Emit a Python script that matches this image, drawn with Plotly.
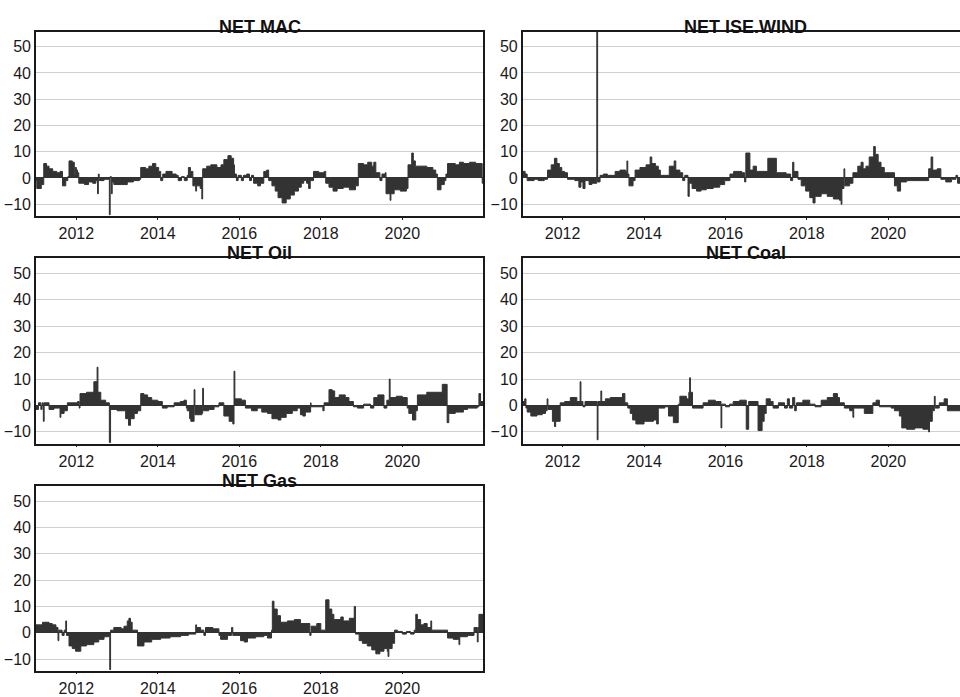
import plotly.graph_objects as go

# ---------------- data (decimal years, step values) ----------------
mac_t = [2011.00, 2011.03, 2011.14, 2011.20, 2011.27, 2011.33, 2011.42, 2011.52, 2011.60, 2011.66,
         2011.74, 2011.79, 2011.82, 2011.90, 2011.95, 2011.97, 2012.00, 2012.03, 2012.06, 2012.20,
         2012.30, 2012.40, 2012.48, 2012.52, 2012.54, 2012.56, 2012.68, 2012.81, 2012.83, 2012.86,
         2012.88, 2012.92, 2013.10, 2013.25, 2013.40, 2013.55, 2013.58, 2013.70, 2013.78, 2013.87,
         2013.95, 2014.02, 2014.07, 2014.12, 2014.20, 2014.35, 2014.45, 2014.50, 2014.58, 2014.65,
         2014.72, 2014.75, 2014.80, 2014.86, 2014.93, 2014.95, 2015.04, 2015.08, 2015.10, 2015.20,
         2015.30, 2015.45, 2015.55, 2015.62, 2015.72, 2015.80, 2015.86, 2015.88, 2015.93, 2015.97,
         2016.05, 2016.10, 2016.18, 2016.25, 2016.30, 2016.35, 2016.45, 2016.52, 2016.60, 2016.67,
         2016.72, 2016.80, 2016.88, 2016.95, 2017.05, 2017.15, 2017.25, 2017.35, 2017.45, 2017.52,
         2017.58, 2017.65, 2017.70, 2017.74, 2017.82, 2017.95, 2018.08, 2018.12, 2018.20, 2018.30,
         2018.40, 2018.55, 2018.70, 2018.85, 2018.92, 2019.05, 2019.15, 2019.25, 2019.30, 2019.35,
         2019.45, 2019.50, 2019.58, 2019.60, 2019.70, 2019.72, 2019.80, 2019.95, 2020.10, 2020.14,
         2020.23, 2020.27, 2020.32, 2020.60, 2020.75, 2020.82, 2020.86, 2020.95, 2021.03, 2021.07,
         2021.11, 2021.30, 2021.40, 2021.50, 2021.65, 2021.80, 2021.96, 2022.00]
mac_v = [-1, -4, -2.5, 5.5, 4.5, 3.5, 2.5, 2, 2.5, -3,
         -1, 0.5, 6.5, 6, 1, 4, 3, 2, -2, -2.5,
         -1.5, -2, -1, -6, 1.5, -1, -0.5, -14, 0.5, -6,
         -1.5, -2.5, -2.5, -1.5, -1, -0.5, 4, 3.5, 4.5, 5.5,
         4, 2.5, -1, 1.5, 2.5, 1.5, 1, -1, 0.5, -1,
         1, 4, 2.5, -3, -5, -3, -4, -8, 3.5, 4.5,
         5, 4, 5, 7, 8.5, 7.5, 5, 1.5, -1, 1,
         -1, 1, 1.5, -1, 1, -2, -3, -2, 2.5, 3,
         -1, -3, -5, -7.5, -9.5, -8, -6.5, -5, -3.5, -2,
         -1, -2, -4, -1, 2.5, 2, 2.5, -2, -3.5, -5,
         -4, -3.5, -4.5, -3, 5.5, 5, 6, 4.5, 6, 2,
         -1, 1.5, 2, -6, -8.5, -6, -4.5, -5, -4, 5,
         9.5, 6.5, 4.5, 4, 3, 1.5, -4.5, -2.5, -1, 1.5,
         5.5, 5, 6, 5.5, 6, 5.5, -2, -2]

wind_t = [2011.00, 2011.08, 2011.13, 2011.30, 2011.40, 2011.55, 2011.63, 2011.72, 2011.80, 2011.86,
          2011.92, 2011.98, 2012.05, 2012.12, 2012.30, 2012.40, 2012.45, 2012.50, 2012.55, 2012.65,
          2012.72, 2012.84, 2012.86, 2012.92, 2013.00, 2013.10, 2013.29, 2013.41, 2013.55, 2013.58,
          2013.60, 2013.63, 2013.73, 2013.78, 2013.90, 2014.05, 2014.15, 2014.19, 2014.28, 2014.35,
          2014.40, 2014.62, 2014.74, 2014.78, 2014.88, 2014.95, 2015.00, 2015.08, 2015.11, 2015.18,
          2015.29, 2015.40, 2015.53, 2015.70, 2015.86, 2015.98, 2016.11, 2016.20, 2016.40, 2016.47,
          2016.50, 2016.60, 2016.68, 2016.76, 2017.04, 2017.25, 2017.49, 2017.60, 2017.65, 2017.68,
          2017.78, 2017.86, 2017.97, 2018.07, 2018.15, 2018.20, 2018.35, 2018.50, 2018.65, 2018.80,
          2018.84, 2018.86, 2018.91, 2018.93, 2019.05, 2019.13, 2019.25, 2019.33, 2019.38, 2019.45,
          2019.53, 2019.64, 2019.68, 2019.75, 2019.82, 2019.90, 2020.15, 2020.22, 2020.30, 2020.45,
          2020.99, 2021.05, 2021.09, 2021.20, 2021.29, 2021.41, 2021.55, 2021.66, 2021.70, 2022.00]
wind_v = [2.5, 1.5, -1, -0.5, -1, -0.5, 3, 5, 7.5, 5.5,
          4, 2.5, 2, -0.5, -1, -3.5, -1.5, -4, -1, -2.5,
          -2, 60, -1.5, 1, 1.5, 1, 2.5, 3, 2.5, 6.5,
          1.5, -3, -1, 3, 4, 5, 8, 5.5, 4.5, 3,
          1, 4.5, 6.5, 3, 2, -1, 1, -7, -2, -4,
          -5, -4.5, -4, -3.5, -2.5, -1, 1.5, 2.5, 2, -1.5,
          9.5, 3, 4.5, 2.5, 7.5, 2, 1.5, -1, 6, 2.5,
          -0.5, -3, -5, -7.5, -9.5, -7, -6, -7, -8, -8.5,
          -10, -4, 3.5, -3, -2, 2, 4.5, 6, 3.5, 4.5,
          8, 12, 9, 6, 4, 2, -3, -5, -1.5, -1,
          3.5, 8, 3, 3.5, -0.5, -1.5, -0.5, 1, -2, -2]

oil_t = [2011.00, 2011.07, 2011.13, 2011.16, 2011.19, 2011.21, 2011.33, 2011.45, 2011.58, 2011.60,
         2011.62, 2011.70, 2011.78, 2012.03, 2012.07, 2012.09, 2012.25, 2012.43, 2012.51, 2012.53,
         2012.60, 2012.72, 2012.81, 2012.84, 2013.00, 2013.17, 2013.21, 2013.28, 2013.33, 2013.42,
         2013.50, 2013.58, 2013.66, 2013.75, 2013.85, 2014.00, 2014.11, 2014.23, 2014.40, 2014.55,
         2014.64, 2014.70, 2014.72, 2014.78, 2014.81, 2014.89, 2014.91, 2015.08, 2015.10, 2015.12,
         2015.25, 2015.38, 2015.50, 2015.62, 2015.75, 2015.84, 2015.87, 2015.89, 2016.05, 2016.15,
         2016.30, 2016.44, 2016.55, 2016.69, 2016.80, 2016.95, 2017.02, 2017.15, 2017.30, 2017.42,
         2017.50, 2017.56, 2017.62, 2017.75, 2017.76, 2018.05, 2018.08, 2018.20, 2018.28, 2018.34,
         2018.45, 2018.60, 2018.69, 2018.80, 2018.90, 2019.05, 2019.22, 2019.30, 2019.40, 2019.55,
         2019.62, 2019.68, 2019.70, 2019.85, 2020.00, 2020.12, 2020.16, 2020.25, 2020.33, 2020.37,
         2020.60, 2020.98, 2021.10, 2021.14, 2021.30, 2021.50, 2021.60, 2021.84, 2021.88, 2021.92,
         2022.00]
oil_v = [-1.5, 1, -1.5, 1, -6, 1, -1.5, -1, -1, -4.5,
         -3, -2, 1, 1.5, -1, 4.5, 5, 9, 14.5, 5,
         2, 1, -14, -1.5, -2, -2, -5, -7.5, -5, -3,
         -2, 4.5, 4, 3, 2, 1.5, -1, -0.5, 1, 1.5,
         2, -1, -2, -5, -6, 6, -3.5, -3, 6.5, -2,
         -1.5, -0.5, 1, -4, -6, -7, 13, 2.5, 2, -1,
         -2, -1, -2.5, -3, -5, -5.5, -4.5, -3, -2, -1,
         -3.5, -4, -2.5, 1, -0.5, -2, 1, 6, 5.5, 3,
         4, 3, 1.5, -0.5, -1, 0.5, -1, 3, 4, -1,
         2, 10, 3, 3.5, 3, -1, -3, -5.5, -2, 4,
         5, 8, -6.5, -3, -2.5, -1.5, -1, -0.5, 4.5, 1.5,
         1.5]

coal_t = [2011.00, 2011.07, 2011.10, 2011.13, 2011.22, 2011.37, 2011.50, 2011.58, 2011.62, 2011.64,
          2011.75, 2011.80, 2011.83, 2011.94, 2012.05, 2012.19, 2012.35, 2012.43, 2012.45, 2012.50,
          2012.55, 2012.85, 2012.87, 2012.94, 2012.96, 2013.05, 2013.17, 2013.41, 2013.47, 2013.53,
          2013.60, 2013.66, 2013.72, 2013.80, 2014.00, 2014.23, 2014.31, 2014.35, 2014.51, 2014.60,
          2014.72, 2014.84, 2014.88, 2015.04, 2015.10, 2015.12, 2015.14, 2015.19, 2015.45, 2015.58,
          2015.75, 2015.89, 2015.91, 2016.00, 2016.10, 2016.19, 2016.35, 2016.51, 2016.57, 2016.80,
          2016.90, 2016.95, 2017.00, 2017.10, 2017.17, 2017.30, 2017.45, 2017.52, 2017.57, 2017.65,
          2017.70, 2017.74, 2017.90, 2018.07, 2018.20, 2018.35, 2018.50, 2018.65, 2018.75, 2018.80,
          2018.92, 2019.05, 2019.13, 2019.15, 2019.41, 2019.62, 2019.70, 2019.78, 2020.07, 2020.15,
          2020.27, 2020.33, 2020.45, 2020.65, 2020.85, 2020.99, 2021.01, 2021.08, 2021.13, 2021.15,
          2021.25, 2021.37, 2021.45, 2022.00]
coal_v = [1.5, 2.5, -1, -2.5, -4, -3.5, -3, -2, 2.5, -1.5,
          -6, -8, -6, 1, 1.5, 3, 1.5, 9, 1.5, -0.5,
          1.5, -13, 1.5, 5.5, 1.5, 2.5, 3, 3, 4.5, 1,
          -1, -3, -5.5, -7, -6, -5.5, -7, -1, -0.5, -4,
          -6.5, 0.5, 3.5, 2.5, 5, 10.5, 5, -1, 1, 2,
          1.5, -8.5, 0.5, -0.5, 0.5, 1.5, 2, -9, 1.5, -9.5,
          -6, -3, 2.5, 1.5, -1, 1, -1, 2.5, -1, 3,
          -2, 1, 2, 0.5, -0.5, 2, 3, 4.5, 3, 1,
          -1, -2, -4.5, -1, -3, 1, 2, -0.5, -1, -2,
          -4, -8.5, -9, -8.5, -9, -10, -6, -2, 3.5, -1,
          1, 2.5, -2, -2]

gas_t = [2011.00, 2011.17, 2011.33, 2011.41, 2011.50, 2011.55, 2011.57, 2011.65, 2011.70, 2011.74,
         2011.76, 2011.82, 2011.90, 2011.98, 2012.11, 2012.25, 2012.43, 2012.55, 2012.68, 2012.80,
         2012.82, 2012.84, 2012.92, 2013.10, 2013.17, 2013.25, 2013.29, 2013.33, 2013.37, 2013.50,
         2013.66, 2013.85, 2014.07, 2014.30, 2014.56, 2014.75, 2014.93, 2014.95, 2015.05, 2015.13,
         2015.17, 2015.35, 2015.50, 2015.54, 2015.71, 2015.81, 2015.84, 2016.03, 2016.12, 2016.20,
         2016.40, 2016.60, 2016.69, 2016.79, 2016.81, 2016.85, 2016.93, 2017.01, 2017.18, 2017.35,
         2017.50, 2017.73, 2017.76, 2017.90, 2018.00, 2018.12, 2018.20, 2018.27, 2018.32, 2018.49,
         2018.55, 2018.70, 2018.82, 2018.85, 2018.94, 2019.02, 2019.14, 2019.25, 2019.35, 2019.45,
         2019.55, 2019.63, 2019.65, 2019.67, 2019.75, 2019.81, 2019.88, 2020.00, 2020.10, 2020.20,
         2020.29, 2020.33, 2020.37, 2020.45, 2020.53, 2020.61, 2020.70, 2020.72, 2021.11, 2021.25,
         2021.39, 2021.41, 2021.60, 2021.76, 2021.84, 2021.86, 2021.88, 2022.00]
gas_v = [3, 4, 3.5, 3, 2, -3, 1, -1, 1, 4.5,
         -1, -5, -6, -7, -5, -4.5, -3.5, -2.5, -1.5, -1,
         -14, 1, 2, 1.5, 2.5, 4.5, 5.5, 4, 1, -5,
         -3.5, -2.5, -2, -1.5, -1, -0.5, 3, 2, 1, -1,
         2, 1.5, -1, -2.5, -1, 2, -1, -3, -3.5, -2,
         -1.5, -1, -2, 1, 12, 9, 6.5, 4, 4.5, 5,
         3.5, -1, 2.5, 3.5, 1, 12.5, 9, 7, 5, 6,
         4.5, 5.5, 10, -0.5, -3, -4, -5, -6.5, -8, -7,
         -6, -7, -9, -6, -4, 1, 0.5, -0.5, 0.5, -0.5,
         1, 7, 5, 3, 3.5, 2, 4.5, 1, -2, -2.5,
         -4.5, -1.5, -1, 2, -3.5, 2, 7, 7]

titles = ["NET MAC", "NET ISE.WIND", "NET Oil", "NET Coal", "NET Gas"]
series = [(mac_t, mac_v), (wind_t, wind_v), (oil_t, oil_v), (coal_t, coal_v), (gas_t, gas_v)]
year_ticks = [2012, 2014, 2016, 2018, 2020]
y_ticks = [-10, 0, 10, 20, 30, 40, 50]

# ---------------- layout geometry ----------------
W, H = 960, 697
left_x = (36 / W, 483 / W)
right_x = (522.7 / W, 1.0)
rows_y = [(1 - 218 / H, 1 - 32 / H), (1 - 448 / H, 1 - 261 / H), (1 - 677.5 / H, 1 - 491 / H)]
xr_left = [2011.01, 2021.98]
xr_right = [2011.02, 2021.76]
y_range = [-14.4, 55.7]

cells = [(0, 0), (0, 1), (1, 0), (1, 1), (2, 0)]

fig = go.Figure()
font_family = "Liberation Sans, Arial, sans-serif"
bar_color = "#333333"
annotations = []

for i, ((r, c), title, (t, v)) in enumerate(zip(cells, titles, series)):
    n = i + 1
    xa = "x" if n == 1 else f"x{n}"
    ya = "y" if n == 1 else f"y{n}"
    fig.add_trace(go.Scatter(
        x=t, y=v, mode="lines", line=dict(shape="hv", color=bar_color, width=1),
        fill="tozeroy", fillcolor=bar_color, xaxis=xa, yaxis=ya,
        showlegend=False, hoverinfo="x+y"))
    xd = left_x if c == 0 else right_x
    yd = rows_y[r]
    xkey = "xaxis" if n == 1 else f"xaxis{n}"
    ykey = "yaxis" if n == 1 else f"yaxis{n}"
    fig.update_layout({
        xkey: dict(domain=list(xd), anchor=ya, range=xr_left if c == 0 else xr_right,
                   tickvals=year_ticks, ticktext=[str(y) for y in year_ticks],
                   showgrid=False, zeroline=False, showline=True, mirror=True,
                   linecolor="#1a1a1a", linewidth=1.6, ticks="outside", ticklen=2,
                   tickcolor="#1a1a1a", tickwidth=1,
                   tickfont=dict(family=font_family, size=16, color="#1a1a1a")),
        ykey: dict(domain=list(yd), anchor=xa, range=y_range, tickvals=y_ticks,
                   showgrid=True, gridcolor="#cfcfcf", gridwidth=1.3,
                   zeroline=True, zerolinecolor=bar_color, zerolinewidth=1,
                   showline=True, mirror=(c == 0), linecolor="#1a1a1a", linewidth=1.6,
                   ticks="", tickfont=dict(family=font_family, size=16, color="#1a1a1a")),
    })
    cx = (36 + 483) / 2 / W if c == 0 else (522.7 + 969) / 2 / W
    annotations.append(dict(text=f"<b>{title}</b>", x=cx, y=yd[1], xref="paper", yref="paper",
                            xanchor="center", yanchor="bottom", yshift=-7, showarrow=False,
                            font=dict(family=font_family, size=18, color="#111111")))

fig.update_layout(width=W, height=H, margin=dict(l=0, r=0, t=0, b=0),
                  plot_bgcolor="white", paper_bgcolor="white",
                  annotations=annotations, showlegend=False)

fig.write_html("out.html")
